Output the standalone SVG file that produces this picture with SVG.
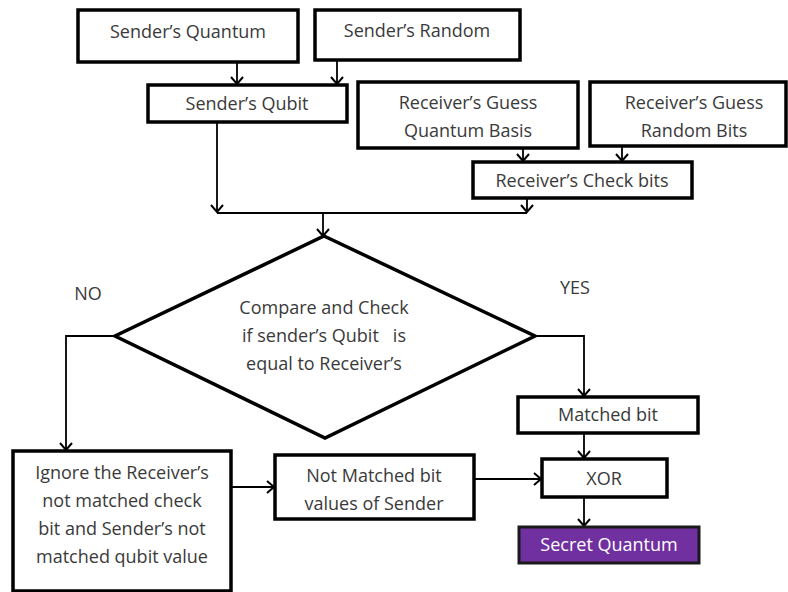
<svg xmlns="http://www.w3.org/2000/svg" width="788" height="592" viewBox="0 0 788 592">
  <defs>
    <marker id="arrow" markerUnits="userSpaceOnUse" markerWidth="14" markerHeight="14" refX="12" refY="7" orient="auto">
      <path d="M5,1 L12,7 L5,13" fill="none" stroke="#000" stroke-width="2"/>
    </marker>
    <style>
      .box { fill: #fff; stroke: #000; stroke-width: 3.5; }
      .purple { fill: #7030a0; stroke: #1a1a1a; stroke-width: 3; }
      .wire { fill: none; stroke: #000; stroke-width: 1.8; }
      .lbl { font-family: "Open Sans", "Liberation Sans", sans-serif; font-size: 18px; fill: #3a3a3a; text-anchor: middle; }
      .white { fill: #fff; }
    </style>
  </defs>
  <rect width="788" height="592" fill="#fff"/>

  <g id="connectors">
    <path class="wire" d="M237,62 V84" marker-end="url(#arrow)"/>
    <path class="wire" d="M337,60 V84" marker-end="url(#arrow)"/>
    <path class="wire" d="M523,148 V161" marker-end="url(#arrow)"/>
    <path class="wire" d="M622,146 V161" marker-end="url(#arrow)"/>
    <path class="wire" d="M217,122 V212" marker-end="url(#arrow)"/>
    <path class="wire" d="M527,198 V212" marker-end="url(#arrow)"/>
    <path class="wire" d="M217,213 H527"/>
    <path class="wire" d="M323,213 V236" marker-end="url(#arrow)"/>
    <path class="wire" d="M115,336 H66 V450" marker-end="url(#arrow)"/>
    <path class="wire" d="M535,336 H584 V396" marker-end="url(#arrow)"/>
    <path class="wire" d="M584,433 V458" marker-end="url(#arrow)"/>
    <path class="wire" d="M584,497 V526" marker-end="url(#arrow)"/>
    <path class="wire" d="M231,487 H274" marker-end="url(#arrow)"/>
    <path class="wire" d="M474,479 H541" marker-end="url(#arrow)"/>
  </g>

  <g id="senders-quantum">
    <rect class="box" x="78" y="10" width="220" height="52"/>
    <text class="lbl" x="188" y="38">Sender’s Quantum</text>
  </g>
  <g id="senders-random">
    <rect class="box" x="315" y="10" width="205" height="50"/>
    <text class="lbl" x="417" y="37">Sender’s Random</text>
  </g>
  <g id="senders-qubit">
    <rect class="box" x="148" y="85" width="199" height="37"/>
    <text class="lbl" x="247" y="110">Sender’s Qubit</text>
  </g>
  <g id="receivers-guess-basis">
    <rect class="box" x="358" y="82" width="220" height="66"/>
    <text class="lbl" x="468" y="109">Receiver’s Guess</text>
    <text class="lbl" x="468" y="137">Quantum Basis</text>
  </g>
  <g id="receivers-guess-bits">
    <rect class="box" x="590" y="82" width="196" height="64"/>
    <text class="lbl" x="694" y="109">Receiver’s Guess</text>
    <text class="lbl" x="694" y="137">Random Bits</text>
  </g>
  <g id="receivers-check-bits">
    <rect class="box" x="473" y="162" width="219" height="36"/>
    <text class="lbl" x="582" y="187">Receiver’s Check bits</text>
  </g>

  <g id="compare-check">
    <polygon class="box" points="324,236 535,336 325,438 115,336"/>
    <text class="lbl" x="324" y="314">Compare and Check</text>
    <text class="lbl" x="324" y="342" xml:space="preserve">if sender’s Qubit   is</text>
    <text class="lbl" x="324" y="370">equal to Receiver’s</text>
  </g>

  <g id="label-no">
    <text class="lbl" x="88" y="300">NO</text>
  </g>
  <g id="label-yes">
    <text class="lbl" x="575" y="294">YES</text>
  </g>

  <g id="ignore">
    <rect class="box" x="13" y="451" width="218" height="140"/>
    <text class="lbl" x="122" y="479">Ignore the Receiver’s</text>
    <text class="lbl" x="122" y="507">not matched check</text>
    <text class="lbl" x="122" y="535">bit and Sender’s not</text>
    <text class="lbl" x="122" y="563">matched qubit value</text>
  </g>
  <g id="not-matched">
    <rect class="box" x="275" y="455" width="199" height="64"/>
    <text class="lbl" x="374" y="482">Not Matched bit</text>
    <text class="lbl" x="374" y="510">values of Sender</text>
  </g>
  <g id="matched-bit">
    <rect class="box" x="518" y="397" width="180" height="36"/>
    <text class="lbl" x="608" y="421">Matched bit</text>
  </g>
  <g id="xor">
    <rect class="box" x="542" y="459" width="125" height="38"/>
    <text class="lbl" x="604" y="485">XOR</text>
  </g>
  <g id="secret-quantum">
    <rect class="purple" x="519" y="527" width="180" height="36"/>
    <text class="lbl white" x="609" y="551">Secret Quantum</text>
  </g>
</svg>
